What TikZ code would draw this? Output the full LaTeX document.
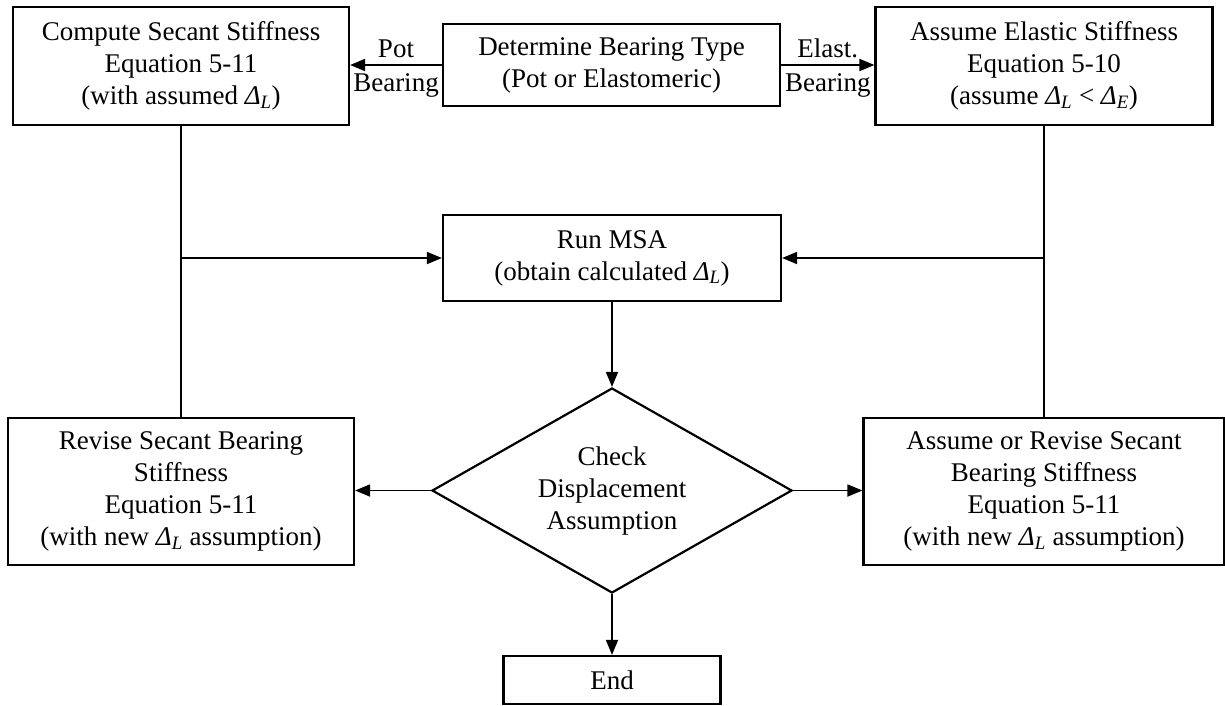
\documentclass[tikz,border=0pt]{standalone}
\usepackage{fontspec}
\setmainfont{Liberation Serif}
\usetikzlibrary{shapes.geometric,arrows.meta,positioning}
\newcommand{\dL}{\textit{Δ}\textsubscript{\textit{L}}}
\newcommand{\dE}{\textit{Δ}\textsubscript{\textit{E}}}

\begin{document}
\begin{tikzpicture}[x=1pt, y=-1pt, >={Triangle[length=15pt,width=12pt]},
    font=\fontsize{27}{32}\selectfont,
    block/.style={draw, line width=2.2pt, align=center, inner sep=0pt},
    decision/.style={diamond, draw, line width=2.2pt, align=center, inner sep=0pt,
      aspect=1.76, minimum width=360pt, minimum height=205pt},
    every edge/.style={draw, line width=1.8pt}]
  \useasboundingbox (0,0) rectangle (1225,705);
  \node[block, minimum width=336pt, minimum height=118pt] (compute) at (181,66) {Compute Secant Stiffness\\Equation 5-11\\(with assumed \dL)};
  \node[block, minimum width=337pt, minimum height=82pt] (bearing) at (611.5,65) {Determine Bearing Type\\(Pot or Elastomeric)};
  \node[block, minimum width=337pt, minimum height=118pt] (elastic) at (1044,66) {Assume Elastic Stiffness\\Equation 5-10\\(assume \dL{} < \dE)};
  \node[block, minimum width=338pt, minimum height=86pt] (msa) at (612,258) {Run MSA\\(obtain calculated \dL)};
  \node[decision] (check) at (612,490.5) {Check\\Displacement\\Assumption};
  \node[block, minimum width=346pt, minimum height=147pt] (revise) at (181,491.5) {Revise Secant Bearing\\Stiffness\\Equation 5-11\\(with new \dL{} assumption)};
  \node[block, minimum width=361pt, minimum height=147pt] (assume) at (1044,491.5) {Assume or Revise Secant\\Bearing Stiffness\\Equation 5-11\\(with new \dL{} assumption)};
  \node[block, minimum width=217pt, minimum height=48pt] (end) at (612,680) {End};
  \path[->]
    (bearing.west) edge node[above, inner sep=6pt] {Pot} node[below, inner sep=8pt] {Bearing} (bearing.west -| compute.east)
    (bearing.east) edge node[above, inner sep=6pt] {Elast.} node[below, inner sep=8pt] {Bearing} (bearing.east -| elastic.west)
    (msa.west -| compute.south) edge (msa.west)
    (msa.east -| elastic.south) edge (msa.east)
    (msa) edge (check)
    (check.west) edge (check.west -| revise.east)
    (check.east) edge (check.east -| assume.west)
    (check) edge (end);
  \path
    (compute) edge (revise)
    (elastic) edge (assume);
\end{tikzpicture}
\end{document}
